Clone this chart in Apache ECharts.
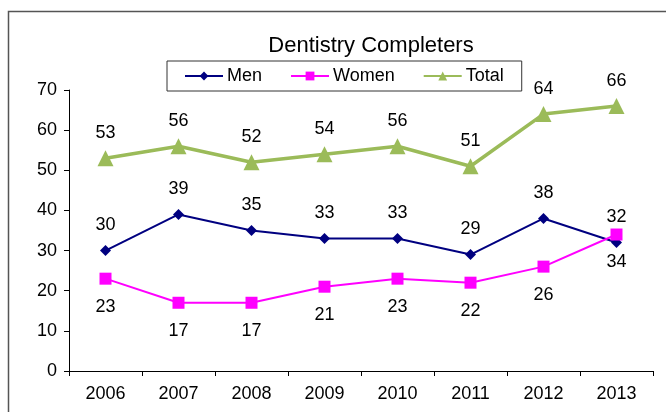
<!DOCTYPE html>
<html>
<head>
<meta charset="utf-8">
<script src="https://cdn.jsdelivr.net/npm/echarts@6/dist/echarts.min.js"></script>
<style>
  html, body { margin: 0; padding: 0; background: #fff; }
  #chart { width: 666px; height: 412px; }
</style>
</head>
<body>
<div id="chart"></div>
<script>
// data
const years = ['2006', '2007', '2008', '2009', '2010', '2011', '2012', '2013']
const men = [30, 39, 35, 33, 33, 29, 38, 32]
const women = [23, 17, 17, 21, 23, 22, 26, 34]
const total = [53, 56, 52, 54, 56, 51, 64, 66]

const FONT = '"Liberation Sans", Arial, sans-serif'

const chart = echarts.init(document.getElementById('chart'), null, { renderer: 'canvas' })

const labelStyle = { show: true, color: '#000', fontSize: 18, fontFamily: FONT }

chart.setOption({
  backgroundColor: '#fff',
  animation: false,
  graphic: [
    {
      // outer frame, only top and left edges are visible in the picture
      type: 'polyline',
      shape: { points: [[8.5, 412], [8.5, 11.5], [666, 11.5]] },
      style: { fill: null, stroke: '#555', lineWidth: 1.5 },
      silent: true,
    },
  ],
  title: {
    text: 'Dentistry Completers',
    left: 366,
    textAlign: 'center',
    top: 30,
    textStyle: { color: '#000', fontSize: 22, fontWeight: 'normal', fontFamily: FONT },
  },
  legend: {
    left: 167,
    top: 61,
    padding: [6, 18, 6, 17],
    itemWidth: 38,
    itemHeight: 11,
    itemGap: 28,
    borderColor: '#333',
    borderWidth: 1,
    textStyle: { color: '#000', fontSize: 18, fontFamily: FONT, padding: [0, 0, 0, -1] },
    data: ['Men', 'Women', 'Total'],
  },
  grid: { left: 69, right: 13, top: 90, bottom: 41, containLabel: false },
  xAxis: {
    type: 'category',
    data: years,
    boundaryGap: true,
    axisLine: { lineStyle: { color: '#000', width: 1 } },
    axisTick: { show: true, length: 5, lineStyle: { color: '#000' } },
    axisLabel: { color: '#000', fontSize: 18, fontFamily: FONT, margin: 14 },
  },
  yAxis: {
    type: 'value',
    min: 0,
    max: 70,
    interval: 10,
    axisLine: { show: true, lineStyle: { color: '#000', width: 1 } },
    axisTick: { show: true, length: 5, lineStyle: { color: '#000' } },
    axisLabel: { color: '#000', fontSize: 18, fontFamily: FONT, margin: 12 },
    splitLine: { show: false },
  },
  series: [
    {
      name: 'Men',
      type: 'line',
      data: men,
      symbol: 'diamond',
      symbolSize: 11,
      color: '#000080',
      lineStyle: { width: 2, color: '#000080' },
      itemStyle: { color: '#000080' },
      label: { ...labelStyle, position: 'top', distance: 11 },
      z: 3,
    },
    {
      name: 'Women',
      type: 'line',
      data: women,
      symbol: 'rect',
      symbolSize: 12,
      color: '#ff00ff',
      lineStyle: { width: 2, color: '#ff00ff' },
      itemStyle: { color: '#ff00ff' },
      label: { ...labelStyle, position: 'bottom', distance: 13 },
      z: 4,
    },
    {
      name: 'Total',
      type: 'line',
      data: total,
      symbol: 'triangle',
      symbolSize: 16,
      color: '#9bbb59',
      lineStyle: { width: 3.5, color: '#9bbb59' },
      itemStyle: { color: '#9bbb59' },
      label: { ...labelStyle, position: 'top', distance: 8 },
      z: 2,
    },
  ],
})
</script>
</body>
</html>
